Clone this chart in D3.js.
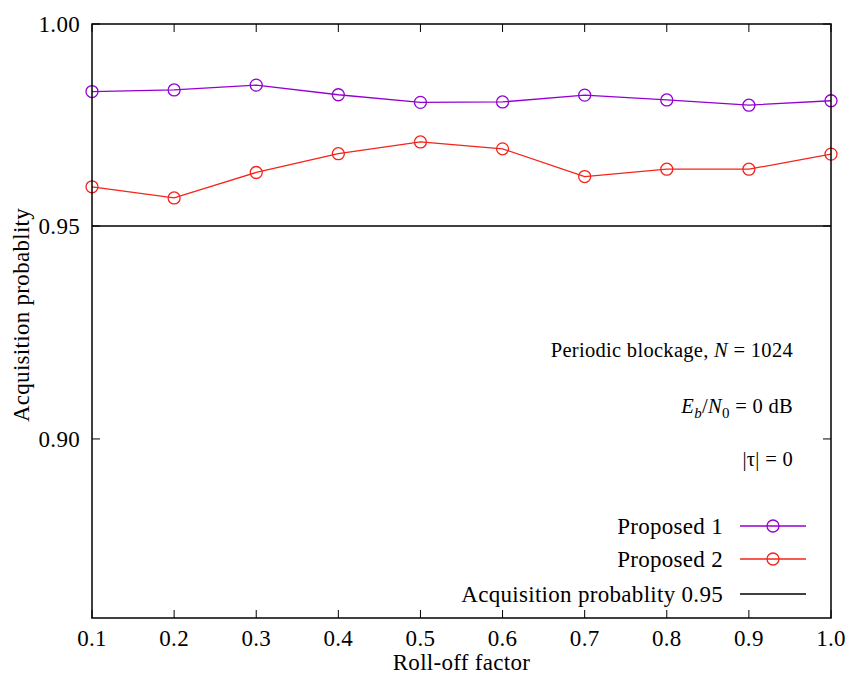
<!DOCTYPE html>
<html>
<head>
<meta charset="utf-8">
<script src="https://cdn.jsdelivr.net/npm/d3@7"></script>
<style>
  body { margin: 0; background: #fff; }
</style>
</head>
<body>
<div id="chart"></div>
<script>
// roll-off factor values
const rolloff = [0.1, 0.2, 0.3, 0.4, 0.5, 0.6, 0.7, 0.8, 0.9, 1.0];
const proposed1 = [0.9830, 0.9834, 0.9846, 0.9822, 0.9803, 0.9804, 0.9821, 0.9809, 0.9796, 0.9807];
const proposed2 = [0.9595, 0.9568, 0.9630, 0.9676, 0.9705, 0.9688, 0.9620, 0.9638, 0.9638, 0.9675];
const threshold = 0.95;
const xTicks = [0.1, 0.2, 0.3, 0.4, 0.5, 0.6, 0.7, 0.8, 0.9, 1.0];
const yTicks = [0.90, 0.95, 1.00];

const width = 849;
const height = 675;
const margin = {top: 24, right: 18, bottom: 57, left: 92};
const serif = "'Liberation Serif', 'Times New Roman', Times, 'DejaVu Serif', serif";

const svg = d3.select('#chart')
  .append('svg')
  .attr('width', width)
  .attr('height', height)
  .style('font-family', serif)
  .style('letter-spacing', '0.3px');

const x = d3.scaleLinear()
  .domain([0.1, 1.0])
  .range([margin.left, width - margin.right]);

// gnuplot log scale on y
const y = d3.scaleLog()
  .domain([0.86, 1.00])
  .range([height - margin.bottom, margin.top]);

const x0 = x.range()[0], x1 = x.range()[1];
const y0 = y.range()[0], y1 = y.range()[1];

// ticks (mirrored on all sides)
const tickG = svg.append('g').attr('stroke', '#000').attr('stroke-width', 1);
xTicks.forEach(t => {
  tickG.append('line').attr('x1', x(t)).attr('x2', x(t)).attr('y1', y0).attr('y2', y0 - 8);
  tickG.append('line').attr('x1', x(t)).attr('x2', x(t)).attr('y1', y1).attr('y2', y1 + 8);
});
yTicks.forEach(t => {
  tickG.append('line').attr('x1', x0).attr('x2', x0 + 8).attr('y1', y(t)).attr('y2', y(t));
  tickG.append('line').attr('x1', x1).attr('x2', x1 - 8).attr('y1', y(t)).attr('y2', y(t));
});

svg.selectAll('.xt')
  .data(xTicks)
  .join('text')
  .attr('x', d => x(d))
  .attr('y', y0 + 28)
  .attr('text-anchor', 'middle')
  .style('font-size', '23px')
  .text(d => d3.format('.1f')(d));

svg.selectAll('.yt')
  .data(yTicks)
  .join('text')
  .attr('x', x0 - 12)
  .attr('y', d => y(d) + 8)
  .attr('text-anchor', 'end')
  .style('font-size', '23px')
  .text(d => d3.format('.2f')(d));

// axis labels
svg.append('text')
  .attr('x', (x0 + x1) / 2)
  .attr('y', 670)
  .attr('text-anchor', 'middle')
  .style('font-size', '23px')
  .text('Roll-off factor');

svg.append('text')
  .attr('transform', `translate(29, 315) rotate(-90)`)
  .attr('text-anchor', 'middle')
  .style('font-size', '23px')
  .text('Acquisition probablity');

// threshold line
svg.append('line')
  .attr('x1', x0).attr('x2', x1)
  .attr('y1', y(threshold)).attr('y2', y(threshold))
  .attr('stroke', '#000')
  .attr('stroke-width', 1.3);

const series = [
  {name: 'Proposed 1', values: proposed1, color: '#9400d3'},
  {name: 'Proposed 2', values: proposed2, color: '#f5231a'}
];

const line = d3.line()
  .x((d, i) => x(rolloff[i]))
  .y(d => y(d));

series.forEach(s => {
  svg.append('path')
    .datum(s.values)
    .attr('fill', 'none')
    .attr('stroke', s.color)
    .attr('stroke-width', 1.3)
    .attr('d', line);

  svg.append('g')
    .selectAll('circle')
    .data(s.values)
    .join('circle')
    .attr('cx', (d, i) => x(rolloff[i]))
    .attr('cy', d => y(d))
    .attr('r', 6)
    .attr('fill', 'none')
    .attr('stroke', s.color)
    .attr('stroke-width', 1.3);
});

// frame
svg.append('rect')
  .attr('x', x0).attr('y', y1)
  .attr('width', x1 - x0).attr('height', y0 - y1)
  .attr('fill', 'none')
  .attr('stroke', '#000')
  .attr('stroke-width', 1.5);

// annotations
const ann = svg.append('g').style('font-size', '20.5px').attr('text-anchor', 'end');
const t1 = ann.append('text').attr('x', 793).attr('y', 357);
t1.append('tspan').text('Periodic blockage, ');
t1.append('tspan').style('font-style', 'italic').text('N');
t1.append('tspan').text(' = 1024');

const t2 = ann.append('text').attr('x', 793).attr('y', 413);
t2.append('tspan').style('font-style', 'italic').text('E');
t2.append('tspan').style('font-style', 'italic').style('font-size', '15px').attr('dy', 5).text('b');
t2.append('tspan').attr('dy', -5).text('/');
t2.append('tspan').style('font-style', 'italic').text('N');
t2.append('tspan').style('font-size', '15px').attr('dy', 5).text('0');
t2.append('tspan').attr('dy', -5).text(' = 0 dB');

ann.append('text').attr('x', 793).attr('y', 466).text('|τ| = 0');

// legend
const legendItems = [
  {name: 'Proposed 1', color: '#9400d3', marker: true},
  {name: 'Proposed 2', color: '#f5231a', marker: true},
  {name: 'Acquisition probablity 0.95', color: '#000', marker: false}
];
const legendY = [526, 559, 594];

legendItems.forEach((d, i) => {
  const g = svg.append('g').attr('transform', `translate(0, ${legendY[i]})`);
  g.append('text')
    .attr('x', 723)
    .attr('y', 8)
    .attr('text-anchor', 'end')
    .style('font-size', '23px')
    .text(d.name);
  g.append('line')
    .attr('x1', 740).attr('x2', 806)
    .attr('stroke', d.color)
    .attr('stroke-width', 1.3);
  if (d.marker) {
    g.append('circle')
      .attr('cx', 773).attr('r', 6)
      .attr('fill', 'none')
      .attr('stroke', d.color)
      .attr('stroke-width', 1.3);
  }
});
</script>
</body>
</html>
